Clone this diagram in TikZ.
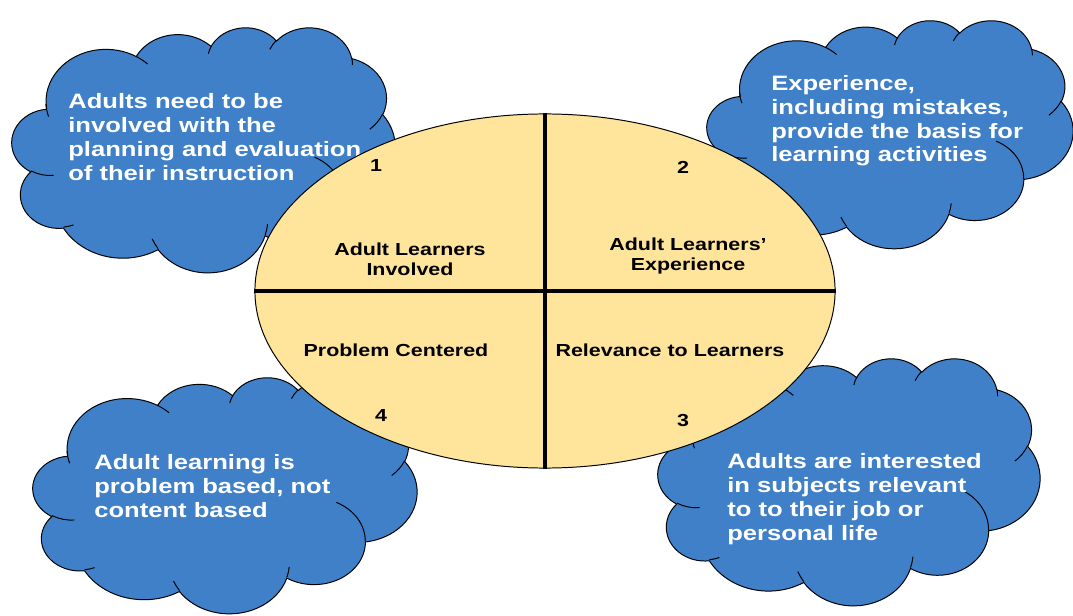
\documentclass[tikz,border=0pt]{standalone}
\usepackage{fontspec}
\setmainfont{Liberation Sans}[FakeStretch=1.23]
\usetikzlibrary{shapes.geometric}

\definecolor{cloudblue}{HTML}{3F80C8}
\definecolor{cellfill}{HTML}{FFE49C}

% ray angle on an ellipse -> parametric angle for arc[]
\newcommand\puffang[3]{(#3)+atan2((#1)*sin(#3),(#2)*cos(#3))-atan2(sin(#3),cos(#3))}

\tikzset{
  cloudline/.style={draw=black, line width=0.7pt},
  cloudtext/.style={text=white, font=\fontsize{14.8}{16.9}\selectfont\bfseries, align=left, inner sep=0pt, anchor=west},
  celltext/.style={font=\fontsize{12.4}{14.2}\selectfont\bfseries, align=center, inner sep=0pt},
  quadline/.style={line width=2.4pt},
  pics/bubble/.style={code={
    % puffs, in a 43.2 x 43.2 box
    \path[fill=cloudblue, cloudline] (3.900,14.370)
      \foreach \rx/\ry/\sa/\ea in {6.753/9.190/-190.4875/-66.7070, 5.333/7.267/-144.1024/-54.1572,
          4.365/5.945/-145.8079/-46.0849, 4.857/6.595/-130.9861/-13.7444,
          5.333/7.273/-78.7089/30.3180, 6.775/9.220/-46.2673/84.0017,
          5.785/7.867/0.6250/114.6583, 6.752/9.215/22.4516/137.6242,
          7.720/10.543/66.2426/141.9537, 4.360/5.918/-274.9421/-128.2065,
          4.345/5.945/-246.8285/-94.3096} {
        arc[x radius=\rx, y radius=\ry, start angle={\puffang{\rx}{\ry}{\sa}}, end angle={\puffang{\rx}{\ry}{\ea}}]
      } -- cycle;
    % creases between puffs
    \foreach \px/\py/\rx/\ry/\sa/\ea in {4.693/26.177/4.345/5.945/86.7420/113.1715,
        6.928/34.899/4.360/5.918/73.6105/85.0580, 16.478/39.090/6.752/9.215/137.6242/151.7053,
        28.827/34.751/6.752/9.215/6.4533/22.4517, 34.129/22.954/5.785/7.867/-70.2924/0.6250,
        41.798/15.354/5.333/7.273/30.3180/58.0695, 38.324/5.426/4.857/6.595/-13.7443/1.1146,
        29.078/3.952/4.857/6.595/-149.1815/-130.9861, 22.141/4.720/4.365/5.945/-163.4943/-145.8079,
        14.000/5.192/6.753/9.190/-66.7070/-54.3876, 4.127/15.789/6.753/9.190/156.4878/174.6784}
      \draw[cloudline] (\px,\py) arc[x radius=\rx, y radius=\ry, start angle={\puffang{\rx}{\ry}{\sa}}, end angle={\puffang{\rx}{\ry}{\ea}}];
  }}
}

\begin{document}
\begin{tikzpicture}[x=0.025cm, y=-0.025cm]
\useasboundingbox (0,0) rectangle (1073,616);

% Clouds
\pic[xscale=383/43.2, yscale=245/43.2] at (12,27) {bubble};
\pic[xscale=366/43.2, yscale=228/43.2] at (707,20) {bubble};
\pic[xscale=384/43.2, yscale=236/43.2] at (33,377) {bubble};
\pic[xscale=382/43.2, yscale=247/43.2] at (658,358) {bubble};

\node[cloudtext] (involved) at (68,137) {Adults need to be\\involved with the\\planning and evaluation\\of their instruction};
\node[cloudtext] (experience) at (771,121) {Experience,\\including mistakes,\\provide the basis for\\learning activities};
\node[cloudtext] (problem) at (94,486) {Adult learning is\\problem based, not\\content based};
\node[cloudtext] (relevance) at (727,499) {Adults are interested\\in subjects relevant\\to to their job or\\personal life};

% Four principles
\node[ellipse, draw, line width=0.7pt, fill=cellfill, minimum width=14.5cm, minimum height=8.85cm, inner sep=0pt] (core) at (545,291) {};
\draw[quadline] (core.north) -- (core.south);
\draw[quadline] (core.west) -- (core.east);

\node[celltext] (q1) at (410,259) {Adult Learners\\Involved};
\node[celltext] (q2) at (688,256) {Adult Learners’\\Experience};
\node[celltext] (q4) at (396,350) {Problem Centered};
\node[celltext] (q3) at (670,350) {Relevance to Learners};

% Numbers
\node[celltext] (n1) at (376,166) {1};
\node[celltext] (n2) at (683,167) {2};
\node[celltext] (n3) at (683,421) {3};
\node[celltext] (n4) at (381,416) {4};
\end{tikzpicture}
\end{document}
